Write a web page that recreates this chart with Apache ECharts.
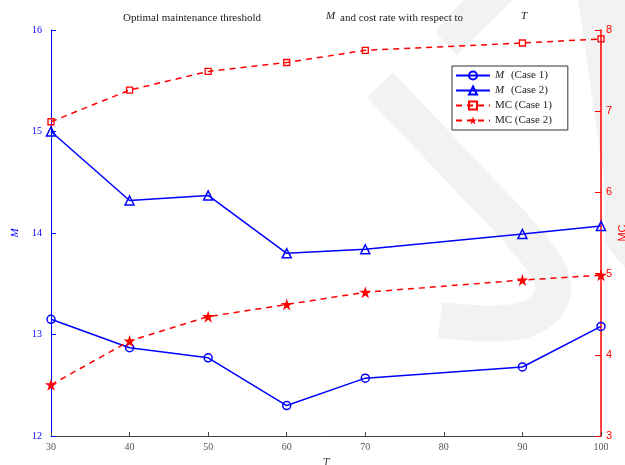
<!DOCTYPE html>
<html>
<head>
<meta charset="utf-8">
<script src="https://cdn.jsdelivr.net/npm/echarts@6/dist/echarts.min.js"></script>
<style>html,body{margin:0;padding:0;background:#fff;}#c{width:625px;height:465px;}</style>
</head>
<body>
<div id="c"></div>
<script>
var T = [30, 40, 50, 60, 70, 90, 100];
var M_case1 = [13.15, 12.87, 12.77, 12.30, 12.57, 12.68, 13.08];
var M_case2 = [15.00, 14.32, 14.37, 13.80, 13.84, 13.99, 14.07];
var MC_case1 = [6.87, 7.26, 7.49, 7.60, 7.75, 7.84, 7.89];
var MC_case2 = [3.63, 4.17, 4.47, 4.62, 4.77, 4.92, 4.98];
var seriesNames = ['M (Case 1)', 'M (Case 2)', 'MC (Case 1)', 'MC (Case 2)'];
var xTicks = [30, 40, 50, 60, 70, 80, 90, 100];
var leftTicks = [12, 13, 14, 15, 16];
var rightTicks = [3, 4, 5, 6, 7, 8];

function pairs(xs, ys) { return xs.map(function (x, i) { return [x, ys[i]]; }); }

var BLUE = '#0000ff', RED = '#ff0000', SERIF = 'Liberation Serif', SANS = 'Liberation Sans';
var WM = '#f2f2f2';

var chart = echarts.init(document.getElementById('c'), null, {renderer: 'canvas'});
chart.setOption({
  backgroundColor: '#ffffff',
  animation: false,
  graphic: [
    {type: 'polygon', z: -10, silent: true, shape: {points: [[463,0],[513,0],[457,55],[435,32]]}, style: {fill: WM}},
    {type: 'polygon', z: -10, silent: true, shape: {points: [[578,0],[625,0],[625,268],[606,244],[604,180]]}, style: {fill: WM}},
    {type: 'polyline', z: -10, silent: true, shape: {points: [[380,85],[470,180],[530,245],[553,285],[540,312],[505,323],[440,320]], smooth: 0.4}, style: {fill: null, stroke: WM, lineWidth: 36}}
  ],
  title: [
    {text: 'Optimal maintenance threshold', left: 123, top: 13, padding: 0, textStyle: {fontFamily: SERIF, fontSize: 11, fontWeight: 'normal', color: '#222'}},
    {text: 'M', left: 326, top: 11, padding: 0, textStyle: {fontFamily: SERIF, fontSize: 11, fontStyle: 'italic', fontWeight: 'normal', color: '#222'}},
    {text: 'and cost rate with respect to', left: 340, top: 13, padding: 0, textStyle: {fontFamily: SERIF, fontSize: 11, fontWeight: 'normal', color: '#222'}},
    {text: 'T', left: 521, top: 11, padding: 0, textStyle: {fontFamily: SERIF, fontSize: 11, fontStyle: 'italic', fontWeight: 'normal', color: '#222'}}
  ],
  legend: {
    data: seriesNames,
    orient: 'vertical',
    left: 452, top: 66,
    padding: [4, 16, 4, 3],
    itemGap: 4,
    itemWidth: 34,
    itemHeight: 10,
    backgroundColor: '#fff',
    borderColor: '#333',
    borderWidth: 1,
    borderRadius: 0,
    textStyle: {
      fontFamily: SERIF, fontSize: 11, color: '#222',
      rich: {i: {fontFamily: SERIF, fontSize: 11, fontStyle: 'italic', color: '#222', padding: [0, 4, 0, 0]}}
    },
    formatter: function (name) {
      if (name.indexOf('M (') === 0) return '{i|M}' + name.slice(1);
      return name;
    }
  },
  grid: {left: 51, right: 24, top: 30, bottom: 29, containLabel: false, outerBoundsMode: 'none'},
  xAxis: {
    type: 'value', min: xTicks[0], max: xTicks[xTicks.length - 1], interval: 10,
    name: 'T', nameLocation: 'middle', nameGap: 15,
    nameTextStyle: {fontFamily: SERIF, fontSize: 12, fontStyle: 'italic', color: '#444'},
    axisLine: {show: true, lineStyle: {color: '#444', width: 1}},
    axisTick: {show: true, inside: true, length: 4, lineStyle: {color: '#444'}},
    axisLabel: {fontFamily: SERIF, fontSize: 10, color: '#555', margin: 6},
    splitLine: {show: false}
  },
  yAxis: [
    {
      type: 'value', position: 'left', min: leftTicks[0], max: leftTicks[leftTicks.length - 1], interval: 1,
      name: 'M', nameLocation: 'middle', nameGap: 29, nameRotate: 90,
      nameTextStyle: {fontFamily: SERIF, fontSize: 11, fontStyle: 'italic', color: BLUE},
      axisLine: {show: true, lineStyle: {color: BLUE, width: 1}},
      axisTick: {show: true, inside: true, length: 5, lineStyle: {color: BLUE}},
      axisLabel: {fontFamily: SERIF, fontSize: 10, color: BLUE, margin: 9},
      splitLine: {show: false}
    },
    {
      type: 'value', position: 'right', min: rightTicks[0], max: rightTicks[rightTicks.length - 1], interval: 1,
      name: 'MC', nameLocation: 'middle', nameGap: 16, nameRotate: 90, nameMoveOverlap: false,
      nameTextStyle: {fontFamily: SANS, fontSize: 11, color: RED},
      axisLine: {show: true, lineStyle: {color: RED, width: 1.5}},
      axisTick: {show: true, inside: true, length: 6, lineStyle: {color: RED}},
      axisLabel: {fontFamily: SANS, fontSize: 11, color: RED, margin: 5},
      splitLine: {show: false}
    }
  ],
  series: [
    {
      name: seriesNames[0], type: 'line', yAxisIndex: 0, data: pairs(T, M_case1),
      symbol: 'circle', symbolSize: 8, showAllSymbol: true,
      lineStyle: {color: BLUE, width: 1.5},
      itemStyle: {color: 'rgba(255,255,255,0)', borderColor: BLUE, borderWidth: 1.5}
    },
    {
      name: seriesNames[1], type: 'line', yAxisIndex: 0, data: pairs(T, M_case2),
      symbol: 'triangle', symbolSize: 9, showAllSymbol: true,
      lineStyle: {color: BLUE, width: 1.5},
      itemStyle: {color: 'rgba(255,255,255,0)', borderColor: BLUE, borderWidth: 1.5}
    },
    {
      name: seriesNames[2], type: 'line', yAxisIndex: 1, data: pairs(T, MC_case1),
      symbol: 'rect', symbolSize: 6, showAllSymbol: true,
      lineStyle: {color: RED, width: 1.5, type: [6, 5]},
      itemStyle: {color: 'rgba(255,255,255,0)', borderColor: RED, borderWidth: 1.3}
    },
    {
      name: seriesNames[3], type: 'line', yAxisIndex: 1, data: pairs(T, MC_case2),
      symbol: 'path://M50,0 L61.8,35.4 L100,35.4 L69.1,57.3 L80.9,95.1 L50,72.4 L19.1,95.1 L30.9,57.3 L0,35.4 L38.2,35.4 Z',
      symbolSize: 12, showAllSymbol: true,
      lineStyle: {color: RED, width: 1.5, type: [6, 5]},
      itemStyle: {color: RED, borderColor: RED, borderWidth: 0}
    }
  ]
});
</script>
</body>
</html>
